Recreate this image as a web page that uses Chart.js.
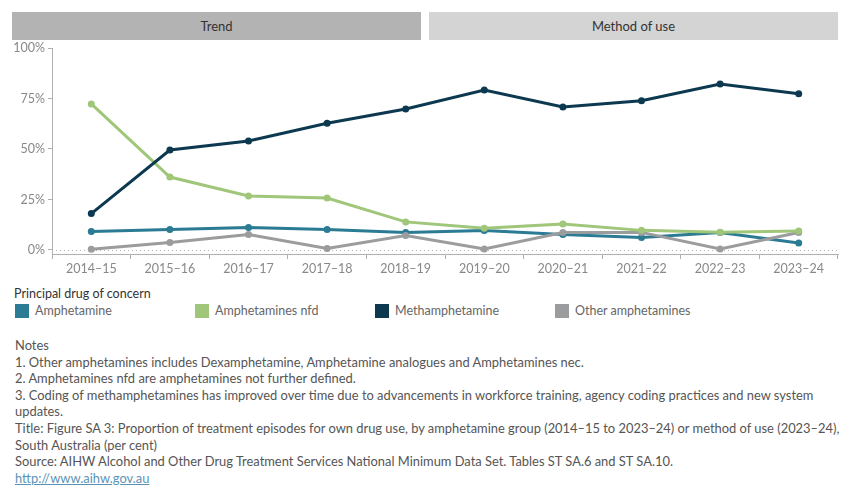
<!doctype html>
<html>
<head>
	<title>Amphetamine treatment episodes, South Australia</title>
	<script src="https://cdn.jsdelivr.net/npm/chart.js@4.4.1/dist/chart.umd.min.js"></script>
	<style>
		body { margin: 0; width: 850px; height: 500px; position: relative; font-family: Lato, "Open Sans", sans-serif; background: #fff; overflow: hidden; }
		.tab { position: absolute; top: 12px; height: 28px; line-height: 28px; text-align: center; font-size: 13px; color: #333; }
		#chartBox { position: absolute; left: 0; top: 36px; width: 850px; height: 244px; }
		#legend { position: absolute; left: 14px; top: 285px; font-size: 12.5px; }
		#legend .ttl { color: #333; height: 18px; line-height: 18px; }
		.item { position: absolute; top: 19px; white-space: nowrap; color: #666; line-height: 14px; }
		.item span.sw { display: inline-block; width: 14px; height: 14px; vertical-align: top; margin-right: 6px; }
		#notes { position: absolute; left: 15px; top: 337px; font-size: 12.9px; color: #555; line-height: 16.6px; white-space: nowrap; }
		#notes a { color: #5b93b5; }
	</style>
</head>
<body>
	<div class="tab" style="left:12px;width:409px;background:#b3b3b3;">Trend</div>
	<div class="tab" style="left:429px;width:409px;background:#d4d4d4;">Method of use</div>
	<div id="chartBox"><canvas id="canvas"></canvas></div>
	<div id="legend"><div class="ttl">Principal drug of concern</div></div>
	<div id="notes">
		<div>Notes</div>
		<div>1. Other amphetamines includes Dexamphetamine, Amphetamine analogues and Amphetamines nec.</div>
		<div>2. Amphetamines nfd are amphetamines not further defined.</div>
		<div>3. Coding of methamphetamines has improved over time due to advancements in workforce training, agency coding practices and new system</div>
		<div>updates.</div>
		<div>Title: Figure SA 3: Proportion of treatment episodes for own drug use, by amphetamine group (2014–15 to 2023–24) or method of use (2023–24),</div>
		<div>South Australia (per cent)</div>
		<div>Source: AIHW Alcohol and Other Drug Treatment Services National Minimum Data Set. Tables ST SA.6 and ST SA.10.</div>
		<div><a href="http://www.aihw.gov.au">http://www.aihw.gov.au</a></div>
	</div>
	<script>
		// data (per cent)
		var years = ['2014–15', '2015–16', '2016–17', '2017–18', '2018–19', '2019–20', '2020–21', '2021–22', '2022–23', '2023–24'];
		var amphetamine = [9.2, 10.1, 11.1, 10.1, 8.6, 9.6, 7.6, 6.2, 8.6, 3.5];
		var amphetaminesNfd = [72.3, 36.1, 26.7, 25.7, 13.9, 10.7, 12.9, 9.7, 8.8, 9.4];
		var methamphetamine = [18, 49.5, 54, 62.7, 69.8, 79.2, 70.8, 73.9, 82.2, 77.4];
		var otherAmphetamines = [0.3, 3.7, 7.6, 0.7, 7.2, 0.5, 8.6, 8.7, 0.5, 8.6];
		var yTicks = [0, 25, 50, 75, 100];

		var seriesNames = ['Amphetamine', 'Amphetamines nfd', 'Methamphetamine', 'Other amphetamines'];
		var seriesData = [amphetamine, amphetaminesNfd, methamphetamine, otherAmphetamines];
		var seriesColors = ['#2a7b93', '#9fc679', '#0c3950', '#9b9c9d'];
		var drawOrder = [3, 1, 0, 2];

		var datasets = [];
		for (var i = 0; i < seriesNames.length; i++) {
			datasets.push({
				label: seriesNames[i],
				data: seriesData[i],
				borderColor: seriesColors[i],
				backgroundColor: seriesColors[i],
				borderWidth: 3,
				pointRadius: 3.5,
				pointBorderWidth: 0,
				tension: 0,
				fill: false,
				order: drawOrder[i]
			});
		}

		// legend
		var legend = document.getElementById('legend');
		for (var j = 0; j < seriesNames.length; j++) {
			var it = document.createElement('div');
			it.className = 'item';
			it.style.left = (1 + j * 180) + 'px';
			it.innerHTML = '<span class="sw" style="background:' + seriesColors[j] + '"></span>' + seriesNames[j];
			legend.appendChild(it);
		}

		var zeroLine = {
			id: 'zeroLine',
			beforeDatasetsDraw: function (chart) {
				var ctx = chart.ctx, a = chart.chartArea;
				var y = Math.round(chart.scales.y.getPixelForValue(0)) + 0.5;
				ctx.save();
				ctx.strokeStyle = '#b5b5b5';
				ctx.lineWidth = 1;
				ctx.setLineDash([1, 3]);
				ctx.beginPath();
				ctx.moveTo(a.left, y);
				ctx.lineTo(a.right, y);
				ctx.stroke();
				ctx.restore();
			}
		};

		var config = {
			type: 'line',
			data: { labels: years, datasets: datasets },
			options: {
				responsive: true,
				maintainAspectRatio: false,
				animation: false,
				layout: { padding: { top: 12, right: 12, left: 0, bottom: 0 } },
				plugins: { legend: { display: false }, tooltip: { enabled: false } },
				scales: {
					x: {
						offset: true,
						grid: { offset: true, drawOnChartArea: false, tickLength: 5, color: '#b0b0b0' },
						border: { color: '#b0b0b0' },
						ticks: { color: '#888', font: { family: 'Lato', size: 12.5 }, padding: 2, maxRotation: 0 },
						afterFit: function (s) { s.height = 26; }
					},
					y: {
						min: -2,
						max: 100,
						afterBuildTicks: function (s) {
							s.ticks = yTicks.map(function (v) { return { value: v }; });
						},
						grid: { drawOnChartArea: false, tickLength: 4, color: '#b0b0b0' },
						border: { color: '#b0b0b0' },
						ticks: {
							color: '#888',
							padding: 3,
							font: { family: 'Lato', size: 12.5 },
							callback: function (v) { return v + '%'; }
						},
						afterFit: function (s) { s.width = 52; }
					}
				}
			},
			plugins: [zeroLine]
		};

		window.onload = function () {
			var ctx = document.getElementById('canvas').getContext('2d');
			window.myLine = new Chart(ctx, config);
		};
	</script>
</body>
</html>
